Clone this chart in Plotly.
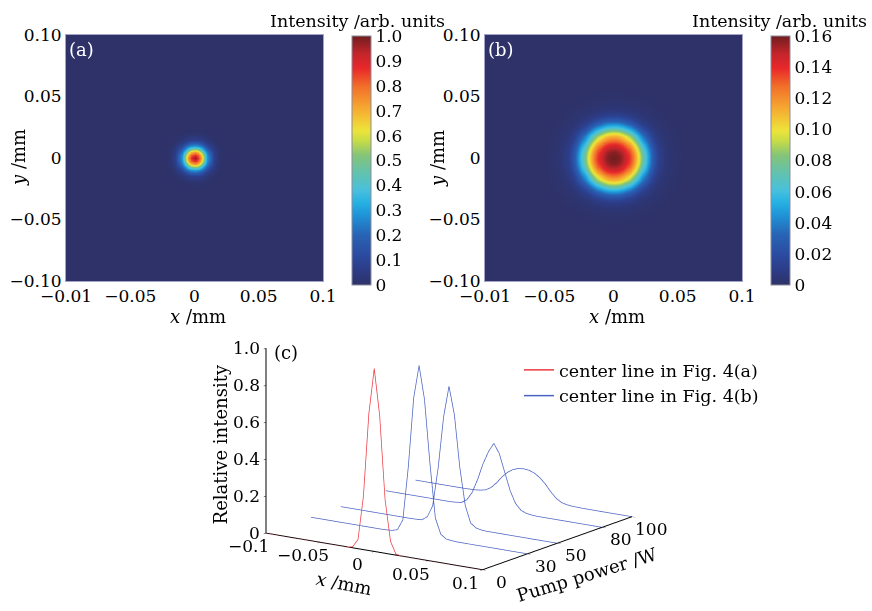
import numpy as np
import plotly.graph_objects as go

# ---------------- data ----------------
# sample positions along the centre line (mm)
x_mm = [-0.100, -0.095, -0.090, -0.085, -0.080, -0.075, -0.070, -0.065, -0.060, -0.055,
        -0.050, -0.045, -0.040, -0.035, -0.030, -0.025, -0.020, -0.015, -0.010, -0.005,
        0.000, 0.005, 0.010, 0.015, 0.020, 0.025, 0.030, 0.035, 0.040, 0.045,
        0.050, 0.055, 0.060, 0.065, 0.070, 0.075, 0.080, 0.085, 0.090, 0.095, 0.100]

# relative intensity along the centre line
line_p0 = [0, 0, 0, 0, 0, 0, 0, 0, 0, 0,
           0, 0, 0, 0, 0, 0, 0.005, 0.05, 0.29, 0.74,
           0.99, 0.74, 0.29, 0.07, 0.005, 0, 0, 0, 0, 0,
           0, 0, 0, 0, 0, 0, 0, 0, 0, 0, 0]
line_p30 = [0, 0, 0, 0, 0, 0, 0, 0, 0, 0,
            0, 0, 0, 0, 0.001, 0.003, 0.012, 0.07, 0.36, 0.74,
            0.92, 0.74, 0.40, 0.11, 0.027, 0.006, 0.002, 0, 0, 0,
            0, 0, 0, 0, 0, 0, 0, 0, 0, 0, 0]
line_p50 = [0, 0, 0, 0, 0, 0, 0, 0, 0, 0,
            0, 0, 0, 0, 0.001, 0.003, 0.025, 0.09, 0.30, 0.58,
            0.75, 0.60, 0.32, 0.12, 0.03, 0.008, 0.002, 0, 0, 0,
            0, 0, 0, 0, 0, 0, 0, 0, 0, 0, 0]
line_p80 = [0, 0, 0, 0, 0, 0, 0, 0, 0, 0,
            0, 0, 0, 0.002, 0.006, 0.025, 0.07, 0.145, 0.235, 0.305,
            0.355, 0.305, 0.21, 0.115, 0.05, 0.018, 0.006, 0.002, 0, 0,
            0, 0, 0, 0, 0, 0, 0, 0, 0, 0, 0]
line_p100 = [0, 0, 0, 0, 0, 0, 0, 0, 0, 0,
             0.001, 0.002, 0.005, 0.012, 0.030, 0.060, 0.097, 0.126, 0.146, 0.157,
             0.160, 0.157, 0.146, 0.126, 0.097, 0.060, 0.030, 0.012, 0.005, 0.002,
             0.001, 0, 0, 0, 0, 0, 0, 0, 0, 0, 0]

pump_powers = [0, 30, 50, 80, 100]

# radial profiles for the 2D maps (right half of the centre lines)
radius_mm = x_mm[20:]
profile_a = line_p0[20:]
profile_b = line_p100[20:]

# tick labels
map_xticks = [-0.1, -0.05, 0, 0.05, 0.1]
map_xticktext = ["\u22120.01", "\u22120.05", "0", "0.05", "0.1"]
map_yticks = [-0.1, -0.05, 0, 0.05, 0.1]
map_yticktext = ["\u22120.10", "\u22120.05", "0", "0.05", "0.10"]
cb_a_ticks = [0, 0.1, 0.2, 0.3, 0.4, 0.5, 0.6, 0.7, 0.8, 0.9, 1.0]
cb_a_text = ["0", "0.1", "0.2", "0.3", "0.4", "0.5", "0.6", "0.7", "0.8", "0.9", "1.0"]
cb_b_ticks = [0, 0.02, 0.04, 0.06, 0.08, 0.10, 0.12, 0.14, 0.16]
cb_b_text = ["0", "0.02", "0.04", "0.06", "0.08", "0.10", "0.12", "0.14", "0.16"]
c_xticks = [-0.1, -0.05, 0, 0.05, 0.1]
c_xtext = ["\u22120.1", "\u22120.05", "0", "0.05", "0.1"]
c_ptext = ["0", "30", "50", "80", "100"]
c_zticks = [0, 0.2, 0.4, 0.6, 0.8, 1.0]
c_ztext = ["0", "0.2", "0.4", "0.6", "0.8", "1.0"]

# ---------------- build ----------------
W, H = 872, 611
FONT = "DejaVu Serif"

def px(xp):
    return xp / W

def py(yp):
    return 1 - yp / H

grid = np.linspace(-0.1, 0.1, 81)
gx, gy = np.meshgrid(grid, grid)
rr = np.sqrt(gx ** 2 + gy ** 2)
za = np.interp(rr, radius_mm, profile_a)
zb = np.interp(rr, radius_mm, profile_b)

jet = [
    [0.00, "#2e3269"], [0.06, "#2c3c86"], [0.12, "#2b4ba0"], [0.20, "#2863b4"],
    [0.28, "#1f93d6"], [0.33, "#25b0e3"], [0.38, "#48c0dc"], [0.45, "#62c2ad"],
    [0.52, "#84c478"], [0.58, "#c8dc46"], [0.62, "#ece43a"], [0.68, "#f4bc33"],
    [0.74, "#f5952f"], [0.80, "#f16d29"], [0.87, "#e9282a"], [0.93, "#c2252a"],
    [1.00, "#701d1f"],
]

fig = go.Figure()

cb_common = dict(thickness=19, len=249, lenmode="pixels", yanchor="bottom",
                 y=py(285), xanchor="left", outlinewidth=1, outlinecolor="#8c8c9c",
                 ticks="", tickfont=dict(family=FONT, size=17, color="black"),
                 ypad=0, xpad=0)

fig.add_trace(go.Heatmap(x=grid, y=grid, z=za, colorscale=jet, zmin=0, zmax=1.0,
                         zsmooth="best", xaxis="x", yaxis="y", hoverinfo="skip",
                         colorbar=dict(x=px(352), tickvals=cb_a_ticks, ticktext=cb_a_text,
                                       **cb_common)))
fig.add_trace(go.Heatmap(x=grid, y=grid, z=zb, colorscale=jet, zmin=0, zmax=0.16,
                         zsmooth="best", xaxis="x2", yaxis="y2", hoverinfo="skip",
                         colorbar=dict(x=px(771), tickvals=cb_b_ticks, ticktext=cb_b_text,
                                       **cb_common)))

lines = [line_p0, line_p30, line_p50, line_p80, line_p100]
for i, (pw, vals) in enumerate(zip(pump_powers, lines)):
    red = i == 0
    fig.add_trace(go.Scatter3d(
        x=x_mm, y=[pw] * len(x_mm), z=vals, mode="lines", scene="scene",
        line=dict(color="#ec3b43" if red else "#4b63c4", width=1.5),
        name="center line in Fig. 4(a)" if red else "center line in Fig. 4(b)",
        showlegend=(i <= 1), hoverinfo="skip"))

tick_font = dict(family=FONT, size=17, color="black")
map_axis = dict(range=[-0.1, 0.1], showline=True, mirror=True, linecolor="#a4a4c8",
                linewidth=1, ticks="", showgrid=False, zeroline=False, automargin=False,
                tickfont=tick_font, fixedrange=True)

d = 2.0
eye = dict(x=0.551 * d, y=-0.798 * d, z=0.245 * d)
s3 = 1.474
sz = 1.068
ax3 = dict(showbackground=False, showgrid=False, zeroline=False, showline=True,
           linecolor="black", linewidth=2, ticks="inside", ticklen=4, tickcolor="black",
           showspikes=False, showticklabels=False, title=dict(text=""))

# labels of panel (c), anchored to the 3D axes
scene_ann = []
def sann(text, x, y, z, xs=0, ys=0, xanchor="center", angle=0, size=17):
    scene_ann.append(dict(text=text, x=x, y=y, z=z, xshift=xs, yshift=ys,
                          xanchor=xanchor, yanchor="middle", showarrow=False,
                          textangle=angle, font=dict(family=FONT, size=size, color="black")))

for v, t in zip(c_zticks, c_ztext):
    sann(t, -0.1, 0, v, xs=-4, xanchor="right")
for v, t in zip(c_xticks, c_xtext):
    sann(t, v, 0, 0, xs=-17, ys=-13)
for v, t in zip(pump_powers, c_ptext):
    sann(t, 0.1, v, 0, xs=19, ys=-12)
sann("<i>x</i> /mm", -0.028, 0, 0, ys=-37, angle=11, size=18)
sann("Pump power /W", 0.1, 70, 0, xs=0, ys=-42, angle=-17, size=18)
sann("Relative intensity", -0.1, 0, 0.48, xs=-46, angle=-90, size=18)

def ann(text, x, y, size=18, color="black", xanchor="center", angle=0):
    return dict(text=text, x=px(x), y=py(y), xref="paper", yref="paper",
                xanchor=xanchor, yanchor="middle", showarrow=False, textangle=angle,
                font=dict(family=FONT, size=size, color=color))

fig.update_layout(
    template="none",
    width=W, height=H, margin=dict(l=0, r=0, t=0, b=0, autoexpand=False),
    paper_bgcolor="white", plot_bgcolor="white",
    font=dict(family=FONT, color="black"),
    xaxis=dict(domain=[px(66), px(323)], anchor="y", tickvals=map_xticks,
               ticktext=map_xticktext, **map_axis),
    yaxis=dict(domain=[py(281), py(35)], anchor="x", tickvals=map_yticks,
               ticktext=map_yticktext, **map_axis),
    xaxis2=dict(domain=[px(485), px(742)], anchor="y2", tickvals=map_xticks,
                ticktext=map_xticktext, **map_axis),
    yaxis2=dict(domain=[py(281), py(35)], anchor="x2", tickvals=map_yticks,
                ticktext=map_yticktext, **map_axis),
    scene=dict(
        domain=dict(x=[px(174), px(724)], y=[0, py(254)]),
        xaxis=dict(range=[-0.1, 0.1], tickvals=c_xticks, **ax3),
        yaxis=dict(range=[0, 100], tickvals=pump_powers, **ax3),
        zaxis=dict(range=[0, 1.0], tickvals=c_zticks, **ax3),
        aspectmode="manual", aspectratio=dict(x=s3, y=s3, z=sz),
        camera=dict(eye=eye, up=dict(x=0, y=0, z=1), center=dict(x=0, y=0, z=0),
                    projection=dict(type="orthographic")),
        bgcolor="rgba(0,0,0,0)",
        annotations=scene_ann,
    ),
    legend=dict(x=px(519), y=py(352), xanchor="left", yanchor="top",
                font=dict(family=FONT, size=17.5, color="black"),
                bgcolor="rgba(0,0,0,0)", tracegroupgap=0, itemwidth=30),
    showlegend=True,
    annotations=[
        ann("(a)", 67, 50, color="white", xanchor="left"),
        ann("(b)", 486, 50, color="white", xanchor="left"),
        ann("(c)", 272, 352, xanchor="left"),
        ann("<i>x</i> /mm", 198, 316),
        ann("<i>x</i> /mm", 617, 316),
        ann("<i>y</i> /mm", 18, 158, angle=-90),
        ann("<i>y</i> /mm", 437, 158, angle=-90),
        ann("Intensity /arb. units", 447, 21, size=17.5, xanchor="right"),
        ann("Intensity /arb. units", 869, 21, size=17.5, xanchor="right"),
    ],
)

fig.write_html("out.html", config={"displayModeBar": False},
               post_script="document.body.style.margin='0px';")
